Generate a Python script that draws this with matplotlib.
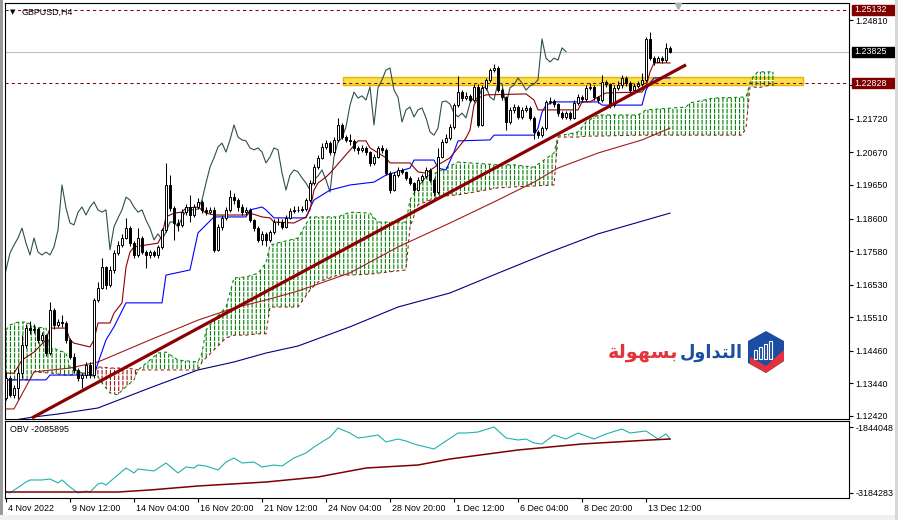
import numpy as np
import matplotlib.pyplot as plt
from matplotlib.patches import Rectangle, Polygon
from matplotlib.transforms import blended_transform_factory, ScaledTranslation

plt.rcParams['font.family'] = ['Liberation Sans', 'DejaVu Sans']
plt.rcParams['hatch.linewidth'] = 0.8

# ---------------- data ----------------
symbol = 'GBPUSD,H4'
first_open = 1.1298
closes = [1.1361, 1.1308, 1.1330, 1.1377, 1.1464, 1.1517, 1.1511, 1.1514, 1.1480, 1.1495,
          1.1439, 1.1574, 1.1527, 1.1536, 1.1533, 1.1480, 1.1427, 1.1386, 1.1361, 1.1370,
          1.1402, 1.1370, 1.1605, 1.1643, 1.1708, 1.1652, 1.1699, 1.1752, 1.1777, 1.1799,
          1.1830, 1.1783, 1.1746, 1.1799, 1.1755, 1.1746, 1.1755, 1.1746, 1.1771, 1.1824,
          1.1965, 1.1893, 1.1846, 1.1840, 1.1880, 1.1896, 1.1871, 1.1896, 1.1912, 1.1887,
          1.1880, 1.1887, 1.1762, 1.1834, 1.1862, 1.1887, 1.1927, 1.1918, 1.1896, 1.1880,
          1.1887, 1.1855, 1.1830, 1.1793, 1.1812, 1.1793, 1.1818, 1.1849, 1.1849, 1.1834,
          1.1862, 1.1884, 1.1887, 1.1887, 1.1890, 1.1918, 1.1971, 1.2021, 1.2050, 1.2084,
          1.2096, 1.2068, 1.2106, 1.2153, 1.2115, 1.2106, 1.2103, 1.2081, 1.2075, 1.2081,
          1.2068, 1.2034, 1.2053, 1.2081, 1.2075, 1.2003, 1.1949, 1.1996, 1.2012, 1.2006,
          1.1987, 1.1971, 1.1949, 1.1981, 1.1993, 1.2012, 1.1981, 1.1943, 1.2053, 1.2100,
          1.2112, 1.2147, 1.2215, 1.2256, 1.2237, 1.2244, 1.2231, 1.2272, 1.2153, 1.2269,
          1.2294, 1.2325, 1.2331, 1.2262, 1.2240, 1.2162, 1.2200, 1.2209, 1.2178, 1.2200,
          1.2206, 1.2175, 1.2131, 1.2121, 1.2143, 1.2225, 1.2228, 1.2218, 1.2190, 1.2178,
          1.2190, 1.2175, 1.2222, 1.2240, 1.2234, 1.2269, 1.2272, 1.2240, 1.2231, 1.2287,
          1.2281, 1.2215, 1.2269, 1.2278, 1.2300, 1.2284, 1.2262, 1.2275, 1.2281, 1.2294,
          1.2422, 1.2362, 1.2350, 1.2362, 1.2356, 1.2394, 1.23825]
highs = [1.1380, 1.1368, 1.1340, 1.1393, 1.1495, 1.1530, 1.1540, 1.1530, 1.1520, 1.1505,
         1.1500, 1.1600, 1.1580, 1.1545, 1.1558, 1.1540, 1.1485, 1.1440, 1.1392, 1.1378,
         1.1410, 1.1410, 1.1612, 1.1660, 1.1735, 1.1712, 1.1710, 1.1760, 1.1790, 1.1810,
         1.1862, 1.1838, 1.1790, 1.1830, 1.1805, 1.1760, 1.1762, 1.1762, 1.1778, 1.1830,
         1.2034, 1.1996, 1.1900, 1.1858, 1.1890, 1.1905, 1.1934, 1.1905, 1.1925, 1.1918,
         1.1895, 1.1895, 1.1895, 1.1842, 1.1870, 1.1895, 1.1950, 1.1940, 1.1925, 1.1905,
         1.1895, 1.1892, 1.1860, 1.1838, 1.1820, 1.1818, 1.1825, 1.1858, 1.1862, 1.1858,
         1.1870, 1.1892, 1.1898, 1.1900, 1.1898, 1.1925, 1.1980, 1.2030, 1.2060, 1.2095,
         1.2105, 1.2102, 1.2115, 1.2175, 1.2160, 1.2122, 1.2125, 1.2110, 1.2088, 1.2090,
         1.2088, 1.2072, 1.2062, 1.2088, 1.2090, 1.2080, 1.2008, 1.2005, 1.2022, 1.2018,
         1.2010, 1.1992, 1.1975, 1.1990, 1.2000, 1.2020, 1.2018, 1.1988, 1.2080, 1.2110,
         1.2125, 1.2155, 1.2222, 1.2305, 1.2262, 1.2255, 1.2250, 1.2280, 1.2282, 1.2278,
         1.2300, 1.2332, 1.2345, 1.2338, 1.2270, 1.2245, 1.2208, 1.2218, 1.2215, 1.2208,
         1.2215, 1.2212, 1.2180, 1.2138, 1.2150, 1.2232, 1.2240, 1.2235, 1.2222, 1.2195,
         1.2198, 1.2195, 1.2230, 1.2250, 1.2248, 1.2278, 1.2285, 1.2278, 1.2245, 1.2310,
         1.2295, 1.2285, 1.2278, 1.2290, 1.2310, 1.2305, 1.2290, 1.2285, 1.2292, 1.2315,
         1.2428, 1.2444, 1.2368, 1.2368, 1.2368, 1.2410, 1.2400]
lows = [1.1292, 1.1300, 1.1298, 1.1296, 1.1360, 1.1455, 1.1500, 1.1502, 1.1470, 1.1472,
        1.1430, 1.1432, 1.1515, 1.1520, 1.1520, 1.1470, 1.1420, 1.1375, 1.1350, 1.1330,
        1.1362, 1.1360, 1.1362, 1.1598, 1.1638, 1.1640, 1.1645, 1.1690, 1.1745, 1.1770,
        1.1795, 1.1775, 1.1735, 1.1740, 1.1748, 1.1705, 1.1738, 1.1740, 1.1738, 1.1765,
        1.1818, 1.1885, 1.1793, 1.1820, 1.1835, 1.1870, 1.1850, 1.1865, 1.1890, 1.1878,
        1.1870, 1.1875, 1.1755, 1.1758, 1.1825, 1.1855, 1.1880, 1.1905, 1.1885, 1.1870,
        1.1872, 1.1848, 1.1820, 1.1785, 1.1778, 1.1775, 1.1788, 1.1812, 1.1840, 1.1828,
        1.1830, 1.1858, 1.1878, 1.1880, 1.1880, 1.1882, 1.1912, 1.1965, 1.2015, 1.2045,
        1.2078, 1.2060, 1.2062, 1.2100, 1.2108, 1.2098, 1.2090, 1.2072, 1.2062, 1.2068,
        1.2060, 1.2025, 1.2028, 1.2048, 1.2066, 1.1995, 1.1940, 1.1945, 1.1990, 1.1998,
        1.1980, 1.1965, 1.1940, 1.1945, 1.1975, 1.1988, 1.1975, 1.1930, 1.1938, 1.2048,
        1.2095, 1.2105, 1.2140, 1.2210, 1.2228, 1.2230, 1.2225, 1.2225, 1.2145, 1.2150,
        1.2262, 1.2288, 1.2320, 1.2255, 1.2232, 1.2137, 1.2155, 1.2190, 1.2170, 1.2172,
        1.2192, 1.2168, 1.2110, 1.2112, 1.2115, 1.2138, 1.2218, 1.2210, 1.2182, 1.2170,
        1.2172, 1.2168, 1.2170, 1.2215, 1.2225, 1.2228, 1.2262, 1.2232, 1.2222, 1.2225,
        1.2272, 1.2205, 1.2210, 1.2262, 1.2270, 1.2275, 1.2255, 1.2258, 1.2270, 1.2275,
        1.2288, 1.2355, 1.2340, 1.2350, 1.2348, 1.2350, 1.2378]

# ichimoku lines (bar index, price)
tenkan_i = [0, 2, 4, 7, 10, 11, 15, 16, 17, 21, 22, 23, 26, 27, 28, 29, 30, 31, 32, 38,
            39, 40, 42, 44, 45, 48, 50, 52, 60, 61, 64, 66, 67, 72, 75, 76, 77, 78, 80, 81,
            88, 90, 91, 95, 96, 101, 103, 105, 108, 111, 115, 116, 117, 118, 120, 130, 132, 133, 143, 144,
            146, 148, 150, 159, 160, 161, 162, 166]
tenkan_v = [1.1376, 1.1376, 1.1417, 1.1442, 1.1480, 1.1517, 1.1517, 1.1480, 1.1470, 1.1458,
            1.1480, 1.1533, 1.1533, 1.1564, 1.1580, 1.1596, 1.1708, 1.1755, 1.1771, 1.1783,
            1.1808, 1.1865, 1.1877, 1.1880, 1.1893, 1.1896, 1.1877, 1.1871, 1.1871, 1.1877,
            1.1865, 1.1862, 1.1849, 1.1846, 1.1865, 1.1887, 1.1949, 1.1971, 1.1990, 1.2002,
            1.2103, 1.2103, 1.2081, 1.2050, 1.2034, 1.2034, 1.2006, 1.2002, 1.2028, 1.2050,
            1.2112, 1.2137, 1.2215, 1.2237, 1.2247, 1.2250, 1.2231, 1.2200, 1.2200, 1.2225,
            1.2225, 1.2240, 1.2253, 1.2256, 1.2272, 1.2319, 1.2347, 1.2347]
kijun_i = [0, 10, 11, 22, 23, 25, 27, 30, 39, 40, 46, 48, 50, 52, 60, 61, 64, 65, 67, 75,
           76, 77, 81, 86, 92, 95, 101, 102, 107, 108, 110, 112, 113, 121, 122, 132, 133, 134, 135, 137,
           148, 149, 159, 160, 161, 162, 166]
kijun_v = [1.1355, 1.1355, 1.1370, 1.1370, 1.1408, 1.1480, 1.1521, 1.1596, 1.1596, 1.1683,
           1.1699, 1.1815, 1.1840, 1.1865, 1.1865, 1.1887, 1.1896, 1.1887, 1.1862, 1.1862,
           1.1893, 1.1918, 1.1949, 1.1965, 1.1974, 1.1996, 1.2018, 1.2043, 1.2043, 1.2018,
           1.2012, 1.2068, 1.2103, 1.2106, 1.2121, 1.2121, 1.2143, 1.2193, 1.2215, 1.2225,
           1.2225, 1.2215, 1.2215, 1.2262, 1.2284, 1.2300, 1.2300]
cloud_i = [0, 1, 3, 5, 6, 7, 10, 11, 15, 16, 20, 22, 23, 24, 26, 28, 29, 32, 33, 36,
           38, 40, 43, 48, 49, 50, 52, 55, 57, 60, 63, 65, 66, 69, 73, 76, 78, 83, 86, 91,
           93, 100, 101, 103, 105, 108, 110, 113, 123, 127, 132, 137, 138, 143, 145, 148, 158, 160, 170, 171,
           177, 184, 185, 186, 187, 188, 190, 192]
span_a = [1.1511, 1.1527, 1.1536, 1.1536, 1.1530, 1.1521, 1.1517, 1.1458, 1.1439, 1.1395,
          1.1370, 1.1367, 1.1364, 1.1345, 1.1314, 1.1308, 1.1323, 1.1355, 1.1386, 1.1417,
          1.1439, 1.1442, 1.1417, 1.1411, 1.1439, 1.1511, 1.1542, 1.1583, 1.1674, 1.1677,
          1.1689, 1.1721, 1.1777, 1.1787, 1.1799, 1.1865, 1.1865, 1.1865, 1.1880, 1.1877,
          1.1849, 1.1849, 1.1918, 1.1959, 1.1990, 1.2006, 1.2018, 1.2037, 1.2028, 1.2028,
          1.2021, 1.2065, 1.2118, 1.2131, 1.2162, 1.2184, 1.2184, 1.2200, 1.2209, 1.2222,
          1.2237, 1.2240, 1.2240, 1.2284, 1.2309, 1.2319, 1.2319, 1.2319]
span_b = [1.1355, 1.1355, 1.1355, 1.1355, 1.1355, 1.1380, 1.1377, 1.1377, 1.1370, 1.1370,
          1.1377, 1.1380, 1.1395, 1.1395, 1.1392, 1.1392, 1.1392, 1.1389, 1.1386, 1.1386,
          1.1386, 1.1386, 1.1386, 1.1386, 1.1411, 1.1424, 1.1449, 1.1486, 1.1495, 1.1495,
          1.1499, 1.1499, 1.1583, 1.1583, 1.1583, 1.1636, 1.1661, 1.1683, 1.1683, 1.1686,
          1.1689, 1.1699, 1.1834, 1.1903, 1.1912, 1.1928, 1.1931, 1.1934, 1.1956, 1.1959,
          1.1962, 1.1965, 1.2115, 1.2115, 1.2118, 1.2118, 1.2121, 1.2121, 1.2121, 1.2121,
          1.2121, 1.2121, 1.2143, 1.2272, 1.2272, 1.2269, 1.2275, 1.2278]

# moving averages
ma_mid_i = [0, 2, 7, 16, 23, 36, 48, 57, 65, 73, 86, 98, 111, 123, 132, 138, 148, 159, 166]
ma_mid_v = [1.1264, 1.1264, 1.1380, 1.1392, 1.1411, 1.1480, 1.1542, 1.1580, 1.1605, 1.1633,
            1.1690, 1.1771, 1.1846, 1.1918, 1.1974, 1.2018, 1.2065, 1.2106, 1.2143]
ma_slow_i = [0, 7, 13, 23, 36, 48, 57, 65, 73, 86, 98, 111, 123, 136, 148, 166]
ma_slow_v = [1.1225, 1.1239, 1.1248, 1.1267, 1.1330, 1.1386, 1.1411, 1.1439, 1.1461, 1.1521,
             1.1583, 1.1627, 1.1689, 1.1755, 1.1812, 1.1877]

# OBV sub-window
obv_i = [0, 1, 5, 6, 9, 11, 13, 14, 16, 18, 20, 21, 23, 24, 25, 30, 32, 33, 35, 37,
         40, 43, 45, 47, 48, 50, 53, 55, 57, 59, 62, 64, 67, 69, 72, 75, 77, 81, 83, 86,
         88, 90, 93, 95, 98, 100, 102, 104, 107, 110, 113, 115, 118, 122, 125, 128, 130, 132, 134, 137,
         140, 143, 147, 150, 154, 156, 160, 163, 165, 166]
obv_v = [-3164000, -3184000, -2961000, -2920000, -2920000, -2900000, -2981000, -2920000, -3062000, -3184000,
         -3144000, -3164000, -3001000, -2981000, -3022000, -2677000, -2778000, -2697000, -2717000, -2737000,
         -2575000, -2778000, -2656000, -2677000, -2616000, -2636000, -2717000, -2555000, -2473000, -2575000,
         -2555000, -2656000, -2616000, -2636000, -2473000, -2372000, -2250000, -2047000, -1864000, -1966000,
         -2067000, -2047000, -2006000, -2149000, -2088000, -2128000, -2189000, -2230000, -2291000, -2128000,
         -1966000, -1966000, -1946000, -1844048, -2067000, -2108000, -2088000, -2169000, -2189000, -2006000,
         -2088000, -1966000, -2088000, -1986000, -1885000, -1966000, -1925000, -2088000, -1986000, -2085895]
obv_ma_i = [0, 28, 36, 48, 65, 78, 90, 103, 111, 128, 144, 161, 166]
obv_ma_v = [-3164000, -3164000, -3123000, -3042000, -2961000, -2859000, -2677000, -2616000,
            -2494000, -2311000, -2189000, -2108000, -2088000]
obv_ticks = [-1844048, -3184283]

# objects drawn on the chart
trend_x = [6.5, 170.0]
trend_y = [1.1236, 1.2341]
zone_x = [84.25, 199.25]
zone_y = [1.2278, 1.2303]
level_hi = 1.25132
level_zone = 1.22828
bid = 1.23825

price_ticks = [1.24810, 1.22770, 1.21720, 1.20670, 1.19650, 1.18600,
               1.17580, 1.16530, 1.15510, 1.14460, 1.13440, 1.12420]
date_ticks = [0, 16, 32, 48, 64, 80, 96, 112, 128, 144, 160]
date_labels = ['4 Nov 2022', '9 Nov 12:00', '14 Nov 04:00', '16 Nov 20:00', '21 Nov 12:00',
               '24 Nov 04:00', '28 Nov 20:00', '1 Dec 12:00', '6 Dec 04:00', '8 Dec 20:00',
               '13 Dec 12:00']

# ---------------- figure ----------------
W, H = 898, 520
fig = plt.figure(figsize=(W / 100, H / 100), dpi=100)


def px_box(l, t, r, b):
    return [l / W, 1 - b / H, (r - l) / W, (b - t) / H]


ax = fig.add_axes(px_box(5, 3, 849, 419))
ax2 = fig.add_axes(px_box(5, 421, 849, 498))
FS = 6.4
DRED = '#8b0000'

# window frame bits
fig.patches.append(Rectangle((0, 0), 3 / W, 1, transform=fig.transFigure, fc='#9a9a9a', ec='none'))
fig.patches.append(Rectangle((0, 0), 1, 5 / H, transform=fig.transFigure, fc='#f0f0f0', ec='none'))
fig.patches.append(Rectangle((895 / W, 0), 3 / W, 1, transform=fig.transFigure, fc='#d8d8d8', ec='none'))

n = len(closes)
idx = np.arange(n)
c = np.array(closes)
o = np.array([first_open] + closes[:-1])
hi = np.array(highs)
lo = np.array(lows)

# cloud: vertical dashed hatching
ci = np.array(cloud_i)
sa = np.array(span_a)
sb = np.array(span_b)
ax.fill_between(ci, sa, sb, where=sa >= sb, interpolate=True, facecolor='none',
                edgecolor='#008000', hatch='||||', linewidth=0, zorder=1.0)
ax.fill_between(ci, sa, sb, where=sa < sb, interpolate=True, facecolor='none',
                edgecolor='#a01010', hatch='||||', linewidth=0, zorder=1.0)
ax.fill_between(ci, sa, sb, facecolor='none', edgecolor='white', hatch='---',
                linewidth=0, zorder=1.1)
ax.plot(ci, sa, color='#008000', lw=0.75, ls=(0, (3, 3)), zorder=1.5)
ax.plot(ci, sb, color='#a01010', lw=0.75, ls=(0, (3, 3)), zorder=1.5)

# resistance zone and levels
ax.add_patch(Rectangle((zone_x[0], zone_y[0]), zone_x[1] - zone_x[0], zone_y[1] - zone_y[0],
                       fc='#f7e04b', ec='#e6b400', lw=1.0, zorder=0.5))
ax.axhline(level_hi, color=DRED, lw=0.75, ls=(0, (3, 3)), zorder=2)
ax.axhline(level_zone, color=DRED, lw=0.75, ls=(0, (3, 3)), zorder=2)
ax.axhline(bid, color='#c0c0c0', lw=0.8, zorder=0.6)

# moving averages
ax.plot(ma_slow_i, ma_slow_v, color='#000080', lw=0.8, zorder=2)
ax.plot(ma_mid_i, ma_mid_v, color='#a01c1c', lw=0.8, zorder=2)

# ichimoku lines
ax.plot(idx - 26, c, color='#2f4f4f', lw=0.8, zorder=2.2)
ax.plot(kijun_i, kijun_v, color='#0000ff', lw=0.8, zorder=2.3)
ax.plot(tenkan_i, tenkan_v, color=DRED, lw=0.8, zorder=2.3)

# candles
up = c >= o
ax.vlines(idx, lo, hi, color='black', lw=0.75, zorder=4)
body_lo = np.minimum(o, c)
body_h = np.maximum(np.abs(c - o), 0.00012)
ax.bar(idx[up], body_h[up], bottom=body_lo[up], width=0.55, color='white',
       edgecolor='black', linewidth=0.7, zorder=5)
ax.bar(idx[~up], body_h[~up], bottom=body_lo[~up], width=0.55, color='black',
       edgecolor='black', linewidth=0.7, zorder=5)

# trend line
ax.plot(trend_x, trend_y, color='#8b0000', lw=2.3, solid_capstyle='butt', zorder=6)

ax.set_xlim(-0.25, 210.75)
ax.set_ylim(1.12325, 1.25346)
ax.set_xticks([])
ax.yaxis.tick_right()
ax.set_yticks(price_ticks)
ax.set_yticklabels([f'{p:.5f}' for p in price_ticks])
ax.tick_params(axis='y', length=3, width=0.8, pad=1.5, labelsize=FS)
for sp in ax.spines.values():
    sp.set_linewidth(0.8)

# price boxes on the scale
yblend = blended_transform_factory(ax.transAxes, ax.transData)
for price, col in [(level_hi, '#800000'), (bid, 'black'), (level_zone, '#800000')]:
    ax.add_patch(Rectangle((1 + 3 / 844, price - 0.00155), 43 / 844, 0.0031, transform=yblend,
                           fc=col, ec=col, clip_on=False, zorder=9))
    ax.text(1 + 5 / 844, price, f'{price:.5f}', transform=yblend, color='white', fontsize=FS,
            va='center', ha='left', clip_on=False, zorder=10)

# chart shift marker
ax.plot([168], [0.993], marker='v', color='#b0b0b0', ms=4.5,
        transform=blended_transform_factory(ax.transData, ax.transAxes), clip_on=False, zorder=7)

# symbol label
fig.text(12.5 / W, 1 - 12 / H, '\u25bc', fontsize=5, va='center', ha='center', family='DejaVu Sans')
fig.text(21 / W, 1 - 12 / H, symbol, fontsize=FS, va='center', ha='left')

# OBV panel
ax2.plot(obv_i, obv_v, color='#20b2aa', lw=0.8)
ax2.plot(obv_ma_i, obv_ma_v, color='#800000', lw=1.1)
ax2.set_xlim(-0.25, 210.75)
ax2.set_ylim(-3285818, -1722206)
ax2.yaxis.tick_right()
ax2.set_yticks(obv_ticks)
ax2.set_yticklabels([str(v) for v in obv_ticks])
ax2.set_xticks(date_ticks)
ax2.set_xticklabels(date_labels, ha='left')
ax2.tick_params(axis='y', length=3, width=0.8, pad=1.5, labelsize=FS)
ax2.tick_params(axis='x', length=3, width=0.8, pad=1.5, labelsize=FS)
shift = ScaledTranslation(2 / 100, 0, fig.dpi_scale_trans)
for lbl in ax2.get_xticklabels():
    lbl.set_transform(lbl.get_transform() + shift)
for sp in ax2.spines.values():
    sp.set_linewidth(0.8)
fig.text(10 / W, 1 - 429 / H, f'OBV {obv_v[-1]}', fontsize=FS, va='center', ha='left')

# watermark logo (Arabic pre-shaped: matplotlib has no Arabic text shaping)
logo = fig.add_axes(px_box(600, 325, 790, 380))
logo.set_xlim(600, 790)
logo.set_ylim(380, 325)
logo.axis('off')
logo.add_patch(Polygon([(766, 331), (784, 341), (784, 361), (766, 373), (748, 363), (748, 341)],
                       closed=True, fc='#1b4ea2', ec='none'))
logo.add_patch(Polygon([(750, 357), (766, 366), (784, 350), (784, 361), (766, 373), (750, 364)],
                       closed=True, fc='#e2323b', ec='none'))
for bx, top in [(754, 350), (759, 347), (764, 344), (769, 341)]:
    logo.add_patch(Rectangle((bx, top), 3, 359 - top, fc='#1b4ea2', ec='white', lw=0.8))
red_word = '\ufe94\ufedf\ufeee\ufeec\ufeb4\ufe91'
blue_word = '\ufedd\ufeed\ufe8d\ufeaa\ufe98\ufedf\ufe8d'
logo.text(743, 353, blue_word, color='#1c4fa3', fontsize=12.8, fontweight='bold',
          ha='right', va='center', family=['DejaVu Sans'])
logo.text(678, 353, red_word, color='#e3333d', fontsize=13.8, fontweight='bold',
          ha='right', va='center', family=['DejaVu Sans'])

fig.savefig('out.png', dpi=100)
